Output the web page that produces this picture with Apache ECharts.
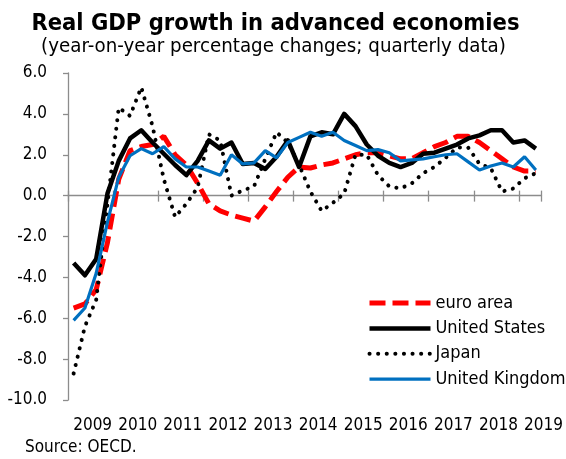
<!DOCTYPE html>
<html>
<head>
<meta charset="utf-8">
<script src="https://cdn.jsdelivr.net/npm/echarts@6/dist/echarts.min.js"></script>
<style>
  html, body { margin: 0; padding: 0; background: #fff; }
  #chart { width: 566px; height: 459px; }
</style>
</head>
<body>
<div id="chart"></div>
<script>
// Quarterly categories, 2009 Q1 to 2019 Q2
const quarters = [
  '2009Q1','2009Q2','2009Q3','2009Q4','2010Q1','2010Q2','2010Q3','2010Q4',
  '2011Q1','2011Q2','2011Q3','2011Q4','2012Q1','2012Q2','2012Q3','2012Q4',
  '2013Q1','2013Q2','2013Q3','2013Q4','2014Q1','2014Q2','2014Q3','2014Q4',
  '2015Q1','2015Q2','2015Q3','2015Q4','2016Q1','2016Q2','2016Q3','2016Q4',
  '2017Q1','2017Q2','2017Q3','2017Q4','2018Q1','2018Q2','2018Q3','2018Q4',
  '2019Q1','2019Q2'
];

// Year-on-year real GDP growth, %
const euroArea = [-5.5,-5.3,-4.6,-2.3,0.8,2.2,2.4,2.5,2.9,2.0,1.5,0.6,-0.4,-0.75,-0.95,-1.1,
  -1.25,-0.55,0.2,0.9,1.4,1.35,1.5,1.6,1.8,2.0,2.1,2.1,1.95,1.8,1.8,2.1,2.4,2.6,2.9,2.9,
  2.6,2.2,1.8,1.4,1.2,1.2];
const unitedStates = [-3.3,-3.9,-3.1,0.1,1.7,2.8,3.2,2.6,2.05,1.5,1.0,1.7,2.7,2.3,2.6,1.55,
  1.6,1.3,1.9,2.7,1.4,2.9,3.1,3.0,4.0,3.4,2.5,1.95,1.6,1.4,1.6,2.05,2.1,2.3,2.5,2.8,
  2.95,3.2,3.2,2.6,2.7,2.3];
const japan = [-8.7,-6.4,-5.1,-0.4,4.3,3.9,5.3,3.4,0.8,-1.05,-0.4,0.4,3.0,2.7,0.0,0.25,
  0.45,1.8,3.1,2.6,1.5,0.2,-0.75,-0.35,0.1,2.0,2.0,1.0,0.45,0.35,0.6,1.1,1.4,1.85,2.35,2.35,
  1.55,1.35,0.2,0.35,0.85,1.1];
const unitedKingdom = [-6.1,-5.5,-3.8,-1.3,0.9,1.95,2.3,2.05,2.4,1.8,1.4,1.4,1.2,1.0,2.0,1.55,
  1.6,2.2,1.85,2.6,2.85,3.1,2.9,3.1,2.7,2.45,2.2,2.25,2.1,1.7,1.75,1.8,1.9,2.0,2.05,1.65,
  1.25,1.45,1.6,1.4,1.9,1.25];

const seriesNames = ['euro area', 'United States', 'Japan', 'United Kingdom'];

// value-axis range and step
const Y_MIN = -10, Y_MAX = 6, Y_STEP = 2;

const FONT = '"DejaVu Sans Condensed", "DejaVu Sans", sans-serif';
const AXIS_GREY = '#8c8c8c';

const chart = echarts.init(document.getElementById('chart'), null, { renderer: 'canvas' });

const baseCategoryAxis = {
  type: 'category',
  data: quarters,
  boundaryGap: true,
  splitLine: { show: false }
};

chart.setOption({
  animation: false,
  backgroundColor: '#fff',
  textStyle: { fontFamily: FONT, color: '#000' },
  title: [
    {
      text: 'Real GDP growth in advanced economies',
      left: 275.5, top: 12, padding: 0, textAlign: 'center',
      textStyle: { fontFamily: FONT, fontSize: 23.5, fontWeight: 'bold', color: '#000' }
    },
    {
      text: '(year-on-year percentage changes; quarterly data)',
      left: 273.5, top: 37, padding: 0, textAlign: 'center',
      textStyle: { fontFamily: FONT, fontSize: 20.3, fontWeight: 'normal', color: '#000' }
    },
    {
      text: 'Source: OECD.',
      left: 25, top: 439, padding: 0,
      textStyle: { fontFamily: FONT, fontSize: 17, fontWeight: 'normal', color: '#000' }
    }
  ],
  legend: {
    orient: 'vertical',
    left: 367, top: 294, padding: 0,
    itemWidth: 61, itemHeight: 14, itemGap: 7.4,
    selectedMode: false,
    data: seriesNames,
    lineStyle: { width: 'inherit' },
    // line samples only, no marker in the middle
    itemStyle: { color: 'rgba(0,0,0,0)', borderWidth: 0 },
    textStyle: { fontFamily: FONT, fontSize: 18, color: '#000' }
  },
  grid: { left: 68, right: 22, top: 73, bottom: 59, containLabel: false },
  xAxis: [
    // year labels along the bottom edge, centred on each year's four quarters
    Object.assign({}, baseCategoryAxis, {
      position: 'bottom',
      axisLine: { show: false, onZero: false },
      axisTick: { show: false },
      axisLabel: {
        interval: 3,
        margin: 17,
        padding: [0, 0, 0, 38],
        fontFamily: FONT, fontSize: 17, color: '#000',
        formatter: v => v.slice(0, 4)
      }
    }),
    // zero line with year ticks pointing up
    Object.assign({}, baseCategoryAxis, {
      position: 'top',
      axisLine: { show: true, onZero: true, onZeroAxisIndex: 0, lineStyle: { color: AXIS_GREY, width: 1.3 } },
      axisTick: { show: true, interval: 3, length: 5, lineStyle: { color: AXIS_GREY, width: 1.3 } },
      axisLabel: { show: false }
    }),
    // lower half of the year ticks, pinned to zero of the helper value axis
    Object.assign({}, baseCategoryAxis, {
      position: 'top',
      axisLine: { show: false, onZero: true, onZeroAxisIndex: 1 },
      axisTick: { show: true, inside: true, interval: 3, length: 6, lineStyle: { color: AXIS_GREY, width: 1.3 } },
      axisLabel: { show: false }
    })
  ],
  yAxis: [
    {
      type: 'value',
      min: Y_MIN, max: Y_MAX, interval: Y_STEP,
      axisLine: { show: true, onZero: false, lineStyle: { color: AXIS_GREY, width: 1.3 } },
      axisTick: { show: true, length: 5, lineStyle: { color: AXIS_GREY, width: 1.3 } },
      splitLine: { show: false },
      axisLabel: {
        margin: 21,
        fontFamily: FONT, fontSize: 17, color: '#000',
        formatter: v => v.toFixed(1)
      }
    },
    {
      // invisible twin scale, only used to anchor the second tick row at zero
      type: 'value',
      min: Y_MIN, max: Y_MAX, interval: Y_STEP,
      axisLine: { show: false, onZero: false },
      axisTick: { show: false },
      axisLabel: { show: false },
      splitLine: { show: false }
    }
  ],
  series: [
    {
      name: 'euro area', type: 'line', data: euroArea, symbol: 'none',
      lineStyle: { color: '#ff0000', width: 5, type: [16, 7] },
      itemStyle: { color: '#ff0000' }
    },
    {
      name: 'United States', type: 'line', data: unitedStates, symbol: 'none',
      lineStyle: { color: '#000000', width: 4.5, join: 'round' },
      itemStyle: { color: '#000000' }
    },
    {
      name: 'Japan', type: 'line', data: japan, symbol: 'none',
      lineStyle: { color: '#000000', width: 4, type: [0.1, 8.5], cap: 'round' },
      itemStyle: { color: '#000000' }
    },
    {
      name: 'United Kingdom', type: 'line', data: unitedKingdom, symbol: 'none',
      lineStyle: { color: '#0070c0', width: 3.2 },
      itemStyle: { color: '#0070c0' }
    }
  ]
});
</script>
</body>
</html>
